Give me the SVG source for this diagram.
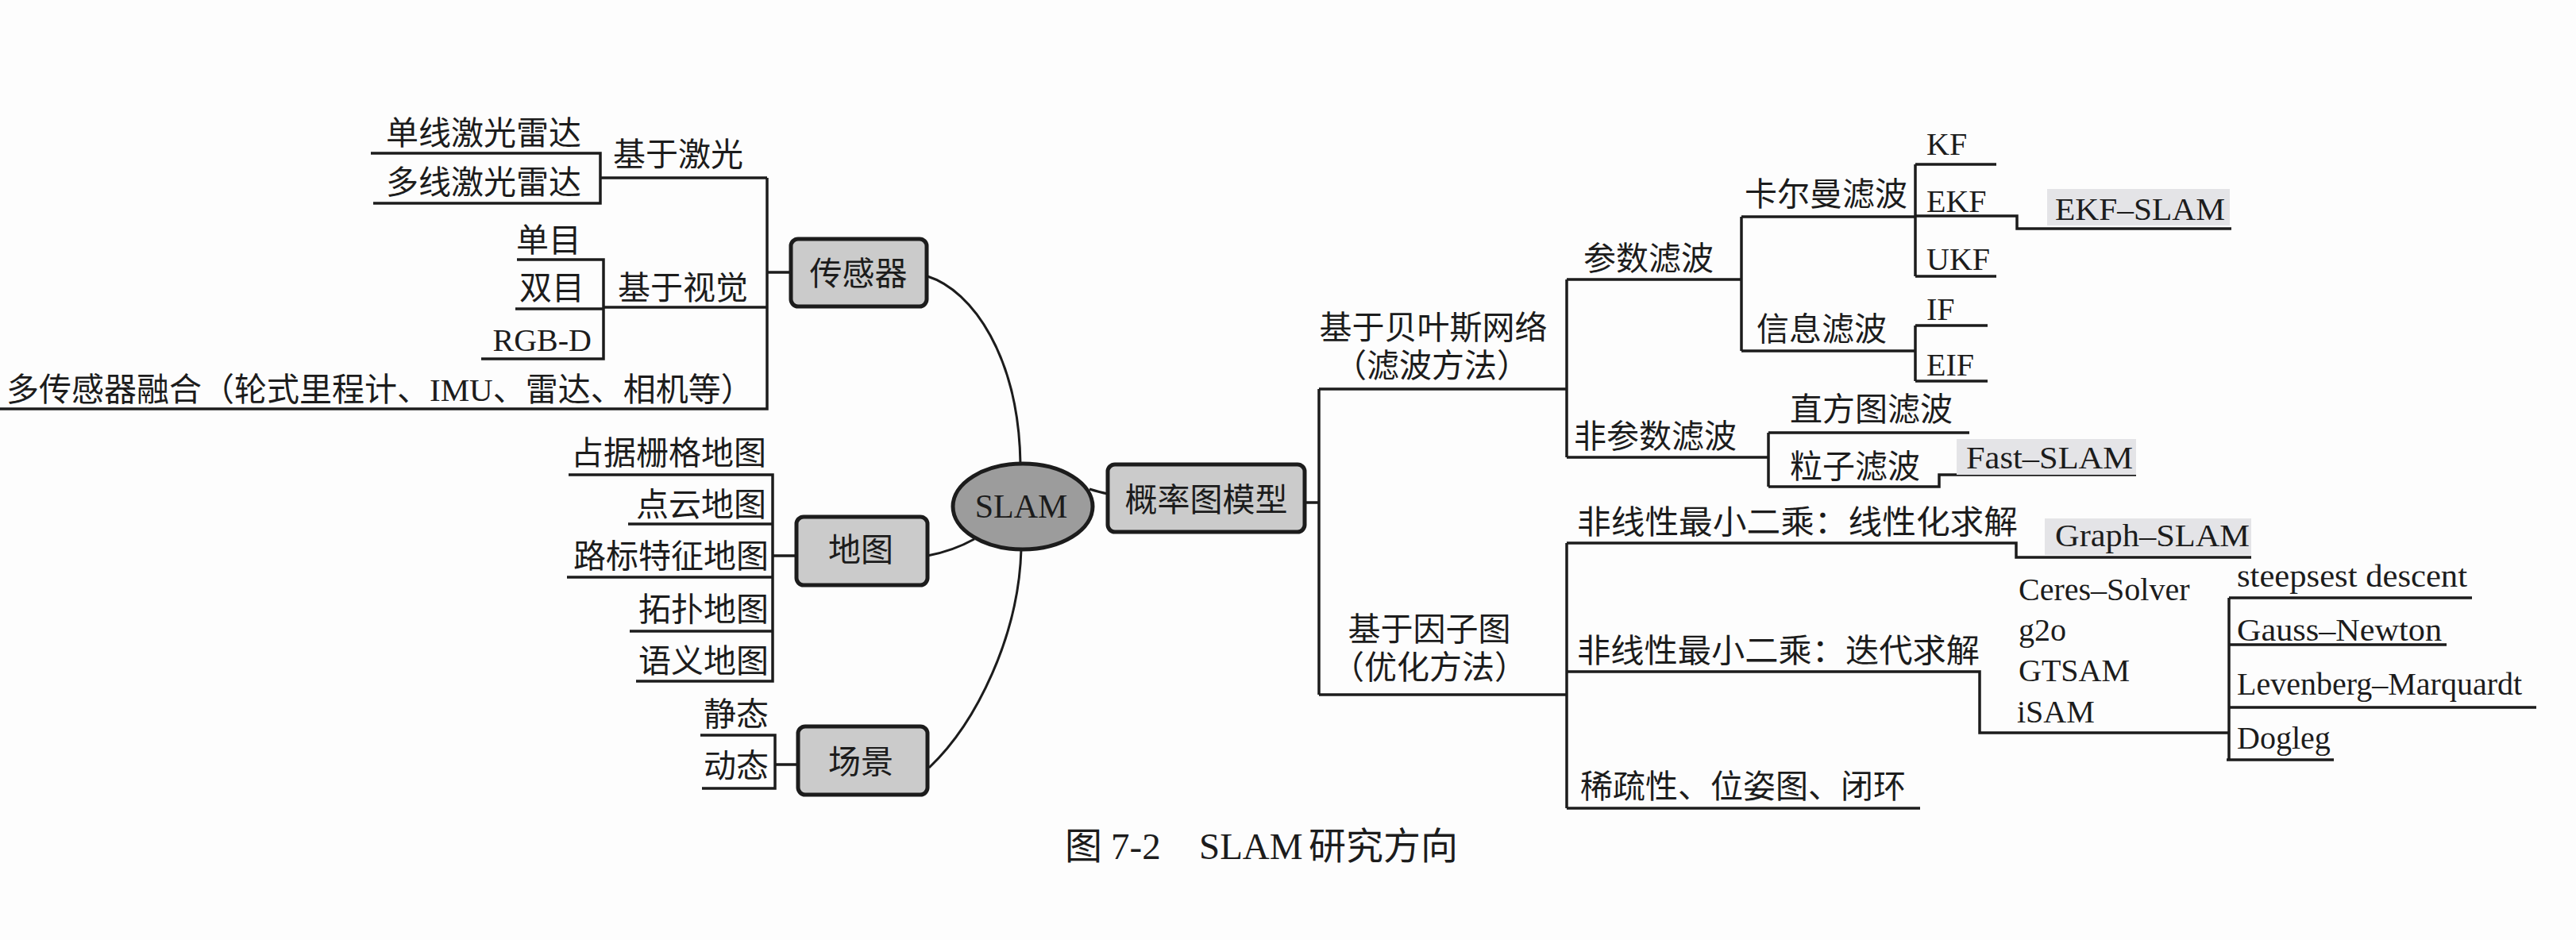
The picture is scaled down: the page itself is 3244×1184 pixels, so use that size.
<svg xmlns="http://www.w3.org/2000/svg" width="3244" height="1184" viewBox="0 0 3244 1184">
<style>
text{font-family:"Liberation Serif","Noto Sans CJK SC",serif;fill:#1c1c1c}
.zh{font-size:41px}
.en{font-size:40px}
.ln{fill:none;stroke:#1c1c1c;stroke-width:3.5}
.cv{fill:none;stroke:#1c1c1c;stroke-width:3}
.box{fill:#cbcbcb;stroke:#1c1c1c;stroke-width:5}
.hl{fill:#e4e4e7}
.mid{text-anchor:middle}
.end{text-anchor:end}
</style>
<rect width="3244" height="1184" fill="#fdfdfd"/>

<g id="connectors">
<!-- sensor branch -->
<path class="ln" d="M467,193H756V256H470M756,224H966M651,327H760V452H606M649,389H760M760,387H966M0,515H966V224M966,343H996"/>
<!-- map branch -->
<path class="ln" d="M716,598H973V858H801M791,660H973M714,727H973M793,795H973M973,700H1003"/>
<!-- scene branch -->
<path class="ln" d="M882,926H976V993H884M976,963H1005"/>
<!-- central curves -->
<path class="cv" d="M1168,348C1225,366 1283,450 1285,584"/>
<path class="cv" d="M1227,679Q1200,694 1168,700"/>
<path class="cv" d="M1286,692C1283,800 1230,910 1170,967"/>
<path class="cv" d="M1372,616Q1385,620 1395,622"/>
<!-- probabilistic model -->
<path class="ln" d="M1643,633H1661M1661,490V875M1661,490H1973M1661,875H1973"/>
<!-- bayes -->
<path class="ln" d="M1973,352V576M1973,352H2193M1973,576H2227M2193,273V442M2193,273H2412M2193,442H2412M2412,207V348M2412,207H2514M2412,272H2540V288H2810M2412,348H2514M2412,410V480M2412,410H2503M2412,480H2503M2227,545V613M2227,545H2480M2227,613H2442V598H2690"/>
<!-- factor graph -->
<path class="ln" d="M1973,684V1018M1973,684H2539V702H2835M1973,846H2493V923H2807M2807,753V957M2807,753H3113M2807,812H3081M2807,891H3194M2804,957H2939M1973,1018H2418"/>
</g>

<g id="node-sensor"><rect class="box" x="996" y="301" width="171" height="85" rx="9"/><text class="zh mid" x="1081" y="359">传感器</text></g>
<g id="node-map"><rect class="box" x="1003" y="651" width="165" height="86" rx="9"/><text class="zh mid" x="1084" y="707">地图</text></g>
<g id="node-scene"><rect class="box" x="1005" y="915" width="163" height="86" rx="9"/><text class="zh mid" x="1084" y="974">场景</text></g>
<g id="node-slam"><ellipse cx="1288" cy="638" rx="88" ry="54" fill="#9c9c9c" stroke="#1c1c1c" stroke-width="5"/><text class="mid" x="1286" y="652" font-size="42">SLAM</text></g>
<g id="node-pgm"><rect class="box" x="1395" y="585" width="248" height="85" rx="9"/><text class="zh mid" x="1519" y="644">概率图模型</text></g>

<g id="node-laser"><text class="zh" x="772" y="209">基于激光</text></g>
<g id="node-single-lidar"><text class="zh end" x="732" y="182">单线激光雷达</text></g>
<g id="node-multi-lidar"><text class="zh end" x="732" y="244">多线激光雷达</text></g>
<g id="node-vision"><text class="zh" x="778" y="377">基于视觉</text></g>
<g id="node-mono"><text class="zh end" x="732" y="317">单目</text></g>
<g id="node-stereo"><text class="zh end" x="736" y="377">双目</text></g>
<g id="node-rgbd"><text class="en end" x="745" y="442">RGB-D</text></g>
<g id="node-fusion"><text class="zh" x="8" y="505">多传感器融合（轮式里程计、IMU、雷达、相机等）</text></g>

<g id="node-occupancy"><text class="zh end" x="965" y="585">占据栅格地图</text></g>
<g id="node-pointcloud"><text class="zh end" x="965" y="650">点云地图</text></g>
<g id="node-landmark"><text class="zh end" x="968" y="715">路标特征地图</text></g>
<g id="node-topo"><text class="zh end" x="968" y="782">拓扑地图</text></g>
<g id="node-semantic"><text class="zh end" x="968" y="847">语义地图</text></g>
<g id="node-static"><text class="zh end" x="968" y="914">静态</text></g>
<g id="node-dynamic"><text class="zh end" x="968" y="979">动态</text></g>

<g id="node-bayes"><text class="zh mid" x="1805" y="427">基于贝叶斯网络</text><text class="zh mid" x="1803" y="475">（滤波方法）</text></g>
<g id="node-param"><text class="zh" x="1994" y="340">参数滤波</text></g>
<g id="node-kalman"><text class="zh" x="2197" y="259">卡尔曼滤波</text></g>
<g id="node-kf"><text class="en" x="2426" y="195">KF</text></g>
<g id="node-ekf"><text class="en" x="2426" y="267">EKF</text></g>
<g id="node-ekfslam"><rect class="hl" x="2578" y="238" width="230" height="46"/><text class="en" x="2588" y="277" textLength="214" lengthAdjust="spacingAndGlyphs">EKF–SLAM</text></g>
<g id="node-ukf"><text class="en" x="2426" y="340">UKF</text></g>
<g id="node-info"><text class="zh" x="2212" y="429">信息滤波</text></g>
<g id="node-if"><text class="en" x="2426" y="403">IF</text></g>
<g id="node-eif"><text class="en" x="2426" y="473">EIF</text></g>
<g id="node-nonparam"><text class="zh" x="1982" y="564">非参数滤波</text></g>
<g id="node-hist"><text class="zh" x="2254" y="530">直方图滤波</text></g>
<g id="node-particle"><text class="zh" x="2254" y="602">粒子滤波</text></g>
<g id="node-fastslam"><rect class="hl" x="2464" y="553" width="226" height="45"/><text class="en" x="2476" y="590" textLength="210" lengthAdjust="spacingAndGlyphs">Fast–SLAM</text></g>

<g id="node-factor"><text class="zh mid" x="1800" y="807">基于因子图</text><text class="zh mid" x="1800" y="855">（优化方法）</text></g>
<g id="node-linearize"><text class="zh" x="1986" y="672" textLength="555" lengthAdjust="spacingAndGlyphs">非线性最小二乘：线性化求解</text></g>
<g id="node-graphslam"><rect class="hl" x="2575" y="653" width="260" height="46"/><text class="en" x="2588" y="688" textLength="245" lengthAdjust="spacingAndGlyphs">Graph–SLAM</text></g>
<g id="node-iterative"><text class="zh" x="1986" y="834" textLength="507" lengthAdjust="spacingAndGlyphs">非线性最小二乘：迭代求解</text></g>
<g id="node-solvers"><text class="en" x="2542" y="756">Ceres–Solver</text><text class="en" x="2542" y="807">g2o</text><text class="en" x="2542" y="858">GTSAM</text><text class="en" x="2540" y="910">iSAM</text></g>
<g id="node-sd"><text class="en" x="2817" y="739" textLength="290" lengthAdjust="spacingAndGlyphs">steepsest descent</text></g>
<g id="node-gn"><text class="en" x="2817" y="807" textLength="258" lengthAdjust="spacingAndGlyphs">Gauss–Newton</text></g>
<g id="node-lm"><text class="en" x="2817" y="875">Levenberg–Marquardt</text></g>
<g id="node-dogleg"><text class="en" x="2817" y="943">Dogleg</text></g>
<g id="node-sparse"><text class="zh" x="1990" y="1005">稀疏性、位姿图、闭环</text></g>

<g id="caption"><text font-size="47" x="1341" y="1082">图</text><text font-size="47" x="1399" y="1082">7-2</text><text font-size="47" x="1510" y="1082">SLAM</text><text font-size="47" x="1648" y="1082">研究方向</text></g>
</svg>
